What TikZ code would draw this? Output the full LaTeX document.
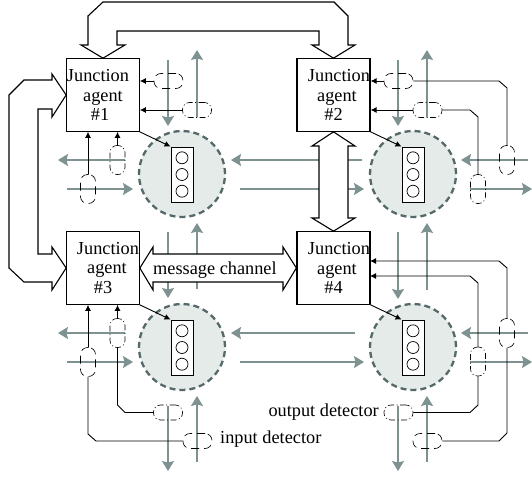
\documentclass[tikz,border=0pt]{standalone}
\usepackage{xcolor}
\usepackage{fontspec}
\setmainfont{Liberation Serif}
\usepackage{tikz}
\usetikzlibrary{arrows.meta}
\usetikzlibrary{shapes,positioning}

\definecolor{roadgrey}{HTML}{7F9292}
\definecolor{zonefill}{HTML}{E4EBE8}
\definecolor{zoneline}{HTML}{55686A}

\tikzset{
    agent/.style={draw, line width=1.2pt, minimum size=72.5pt, inner sep=0pt, align=center},
    zone/.style={circle, draw=zoneline, fill=zonefill, line width=2.3pt, minimum size=86pt, dash pattern=on 6pt off 4pt},
    light/.style={draw, fill=white, line width=0.9pt, minimum width=22pt, minimum height=55pt, inner sep=0pt},
    bulb/.style={circle, draw, line width=0.7pt, minimum size=12pt, inner sep=0pt},
    road/.style={roadgrey, line width=1.4pt, -{Stealth[length=10pt,width=12pt,inset=1.5pt]}},
    channel/.style={draw, fill=white, line width=1.1pt, line join=miter},
    inputdet/.style={draw, line width=0.6pt, inner sep=0pt, rounded corners=7pt, dash pattern=on 8pt off 5pt},
    outputdet/.style={draw, line width=0.6pt, inner sep=0pt, rounded corners=7pt, dash pattern=on 6pt off 2.5pt on 1pt off 2.5pt},
    hdet/.style={minimum width=29pt, minimum height=15pt},
    vdet/.style={minimum width=15pt, minimum height=29pt},
    wire/.style={line width=0.9pt, -{Latex[length=6pt,width=6pt]}},
    plainwire/.style={line width=0.9pt},
}

\begin{document}
\begin{tikzpicture}[x=1pt, y=-1pt, font=\fontsize{18.3}{19.5}\selectfont]
    \useasboundingbox (0,0) rectangle (532,479);

    % roads around junction 1
    \coordinate (n1in) at (168,60);    \coordinate (n1end) at (168,126);
    \coordinate (n1out) at (197,117);  \coordinate (n1tip) at (197,50);
    \coordinate (w1out) at (125,160);  \coordinate (w1tip) at (58,160);
    \coordinate (w1in) at (67,189);    \coordinate (w1end) at (133,189);
    \coordinate (s1in) at (197,289);   \coordinate (s1end) at (197,223);
    \coordinate (s1out) at (168,232);  \coordinate (s1tip) at (168,298);
    \coordinate (e1in) at (362,160);   \coordinate (e1end) at (231,160);
    \coordinate (e1out) at (240,189);  \coordinate (e1tip) at (364,189);
    \draw[road] (n1in) -- (n1end);
    \draw[road] (n1out) -- (n1tip);
    \draw[road] (w1out) -- (w1tip);
    \draw[road] (w1in) -- (w1end);
    \draw[road] (s1in) -- (s1end);
    \draw[road] (s1out) -- (s1tip);
    \draw[road] (e1in) -- (e1end);
    \draw[road] (e1out) -- (e1tip);

    % roads around junction 2
    \coordinate (n2in) at (398,60);    \coordinate (n2end) at (398,126);
    \coordinate (n2out) at (427,117);  \coordinate (n2tip) at (427,50);
    \coordinate (e2in) at (528,160);   \coordinate (e2end) at (461,160);
    \coordinate (e2out) at (470,189);  \coordinate (e2tip) at (532,189);
    \coordinate (s2in) at (427,290);   \coordinate (s2end) at (427,223);
    \coordinate (s2out) at (398,232);  \coordinate (s2tip) at (398,299);
    \draw[road] (n2in) -- (n2end);
    \draw[road] (n2out) -- (n2tip);
    \draw[road] (e2in) -- (e2end);
    \draw[road] (e2out) -- (e2tip);
    \draw[road] (s2in) -- (s2end);
    \draw[road] (s2out) -- (s2tip);

    % roads around junction 3
    \coordinate (w3out) at (125,333);  \coordinate (w3tip) at (58,333);
    \coordinate (w3in) at (67,362);    \coordinate (w3end) at (133,362);
    \coordinate (s3in) at (197,462);   \coordinate (s3end) at (197,396);
    \coordinate (s3out) at (168,406);  \coordinate (s3tip) at (168,471);
    \coordinate (e3in) at (355,333);   \coordinate (e3end) at (231,333);
    \coordinate (e3out) at (240,362);  \coordinate (e3tip) at (364,362);
    \draw[road] (w3out) -- (w3tip);
    \draw[road] (w3in) -- (w3end);
    \draw[road] (s3in) -- (s3end);
    \draw[road] (s3out) -- (s3tip);
    \draw[road] (e3in) -- (e3end);
    \draw[road] (e3out) -- (e3tip);

    % roads around junction 4
    \coordinate (e4in) at (528,333);   \coordinate (e4end) at (461,333);
    \coordinate (e4out) at (470,362);  \coordinate (e4tip) at (532,362);
    \coordinate (s4in) at (427,462);   \coordinate (s4end) at (427,396);
    \coordinate (s4out) at (398,406);  \coordinate (s4tip) at (398,471);
    \draw[road] (e4in) -- (e4end);
    \draw[road] (e4out) -- (e4tip);
    \draw[road] (s4in) -- (s4end);
    \draw[road] (s4out) -- (s4tip);

    % agents
    \node[agent] (agent1) at (103,95) {\hspace*{-10pt}Junction\\agent\\\hspace*{-6pt}\#1};
    \node[agent] (agent2) at (333.5,95) {\hspace*{11pt}Junction\\\hspace*{7pt}agent\\\#2};
    \node[agent] (agent3) at (103,268) {\hspace*{10pt}Junction\\\hspace*{8pt}agent\\\#3};
    \node[agent] (agent4) at (333.5,268) {\hspace*{11pt}Junction\\\hspace*{7pt}agent\\\#4};

    % message channels
    \draw[channel] (agent1.north) -- (125,45) -- (117,45) -- (117,31) -- (319,31) -- (319,45)
        -- (312,45) -- (agent2.north) -- (355,45) -- (348,45) -- (348,16) -- (334,2)
        -- (103,2) -- (88,16) -- (88,45) -- (81,45) -- cycle;
    \draw[channel] (agent1.west) -- (52,117) -- (52,109) -- (38,109) -- (38,254) -- (52,254)
        -- (52,247) -- (agent3.west) -- (52,290) -- (52,282) -- (24,282) -- (9,268)
        -- (9,95) -- (24,80) -- (52,80) -- (52,74) -- cycle;
    \draw[channel] (agent2.south) -- (355,146) -- (348,146) -- (348,218) -- (355,218)
        -- (agent4.north) -- (312,218) -- (319,218) -- (319,146) -- (312,146) -- cycle;
    \draw[channel] (agent3.east) -- (153,247) -- (153,254) -- (283,254) -- (283,247)
        -- (agent4.west) -- (283,290) -- (283,282) -- (153,282) -- (153,290) -- cycle;
    \node[anchor=base west, inner sep=0pt] (channellabel) at (153,274) {message channel};

    % intersections
    \node[zone] (zone1) at (182,174) {};
    \node[light] (light1) at (182,174.5) {};
    \node[bulb] (bulb1b) at (light1) {};
    \node[bulb, above=4pt of bulb1b] (bulb1a) {};
    \node[bulb, below=4pt of bulb1b] (bulb1c) {};

    \node[zone] (zone2) at (413,174) {};
    \node[light] (light2) at (413,174.5) {};
    \node[bulb] (bulb2b) at (light2) {};
    \node[bulb, above=4pt of bulb2b] (bulb2a) {};
    \node[bulb, below=4pt of bulb2b] (bulb2c) {};

    \node[zone] (zone3) at (182,347) {};
    \node[light] (light3) at (182,347.5) {};
    \node[bulb] (bulb3b) at (light3) {};
    \node[bulb, above=4pt of bulb3b] (bulb3a) {};
    \node[bulb, below=4pt of bulb3b] (bulb3c) {};

    \node[zone] (zone4) at (413,347) {};
    \node[light] (light4) at (413,347.5) {};
    \node[bulb] (bulb4b) at (light4) {};
    \node[bulb, above=4pt of bulb4b] (bulb4a) {};
    \node[bulb, below=4pt of bulb4b] (bulb4c) {};

    \draw[wire] (agent1.south east) -- (light1.north west);
    \draw[wire] (agent2.south east) -- (light2.north west);
    \draw[wire] (agent3.south east) -- (light3.north west);
    \draw[wire] (agent4.south east) -- (light4.north west);

    % detectors of agent 1
    \node[inputdet, hdet] (in1a) at (168.5,81) {};
    \node[outputdet, hdet] (out1a) at (197,110) {};
    \node[outputdet, vdet] (out1b) at (117.5,160) {};
    \node[inputdet, vdet] (in1b) at (88,189) {};
    \draw[wire] (in1a.west) -- (in1a.west -| agent1.east);
    \draw[wire] (out1a.west) -- (out1a.west -| agent1.east);
    \draw[wire] (out1b.north) -- (out1b.north |- agent1.south);
    \draw[wire] (in1b.north) -- (in1b.north |- agent1.south);

    % detectors of agent 2
    \node[inputdet, hdet] (in2a) at (398.5,81) {};
    \node[outputdet, hdet] (out2a) at (427.5,110) {};
    \node[inputdet, vdet] (in2b) at (507,160) {};
    \node[outputdet, vdet] (out2b) at (478,189) {};
    \draw[wire] (in2a.west) -- (in2a.west -| agent2.east);
    \draw[wire] (out2a.west) -- (out2a.west -| agent2.east);
    \draw[plainwire] (in2a.east) -- (499,81) -- (507,88) -- (in2b.north);
    \draw[plainwire] (out2a.east) -- (470,110) -- (478,117) -- (out2b.north);

    % detectors of agent 3
    \node[outputdet, vdet] (out3a) at (117.5,333) {};
    \node[inputdet, vdet] (in3a) at (88,362) {};
    \node[outputdet, hdet] (out3b) at (168,412.5) {};
    \node[inputdet, hdet] (in3b) at (197.5,441) {};
    \draw[wire] (out3a.north) -- (out3a.north |- agent3.south);
    \draw[wire] (in3a.north) -- (in3a.north |- agent3.south);
    \draw[plainwire] (out3a.south) -- (117.5,405) -- (125,412.5) -- (out3b.west);
    \draw[plainwire] (in3a.south) -- (88,434) -- (96,441) -- (in3b.west);

    % detectors of agent 4
    \node[inputdet, vdet] (in4a) at (507,333) {};
    \node[outputdet, vdet] (out4a) at (478,361.5) {};
    \node[outputdet, hdet] (out4b) at (398.5,412.5) {};
    \node[inputdet, hdet] (in4b) at (427.5,441) {};
    \coordinate (wire4a) at (370,261);
    \coordinate (wire4b) at (370,276);
    \draw[wire] (in4a.north) -- (507,268) -- (499,261) -- (wire4a);
    \draw[wire] (out4a.north) -- (478,283) -- (470,276) -- (wire4b);
    \draw[plainwire] (out4a.south) -- (478,405) -- (470,412.5) -- (out4b.east);
    \draw[plainwire] (in4a.south) -- (507,433) -- (499,441) -- (in4b.east);

    \node[anchor=base east, inner sep=0pt] (outputlabel) at (379,416) {output detector};
    \node[anchor=base west, inner sep=0pt] (inputlabel) at (220,443) {input detector};
\end{tikzpicture}
\end{document}
